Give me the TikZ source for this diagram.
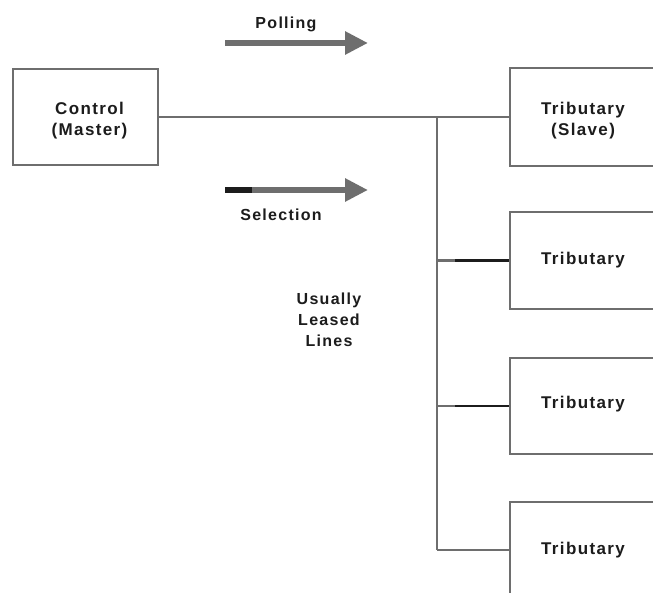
\documentclass[tikz,border=0pt]{standalone}
\usepackage{fontspec}
\setmainfont{Liberation Sans}[LetterSpace=8]
\usetikzlibrary{arrows.meta,calc}
\definecolor{linegray}{HTML}{6E6E6E}
\definecolor{ink}{HTML}{1C1C1C}
\begin{document}
\begin{tikzpicture}[x=1pt,y=-1pt,
  box/.style={draw=linegray, line width=2.6pt, minimum width=146pt, inner sep=0pt},
  lbl/.style={text=ink, align=center, font=\fontsize{17}{21}\selectfont\bfseries, inner sep=0pt},
  note/.style={text=ink, align=center, font=\fontsize{16}{21}\selectfont\bfseries, inner sep=0pt},
  wire/.style={draw=linegray, line width=2.6pt},
  hot/.style={draw=ink, line width=2.6pt},
  bigarrow/.style={draw=linegray, line width=6pt, -{Triangle[length=23pt,width=22pt]}}
]
\useasboundingbox (0,0) rectangle (653,593);
\fill[white] (0,0) rectangle (653,593);
\clip (0,0) rectangle (653,593);

% boxes
\node[box, minimum width=145pt, minimum height=96pt] (ctrl) at (85.5,117) {};
\node[box, minimum height=98pt] (t1) at (583,117) {};
\node[box, minimum height=97pt] (t2) at (583,260.5) {};
\node[box, minimum height=96pt] (t3) at (583,406) {};
\node[box, minimum height=96pt] (t4) at (583,550) {};

% labels
\node[lbl] (ctrltext) at ($(ctrl.center)+(4,4)$) {Control\\(Master)};
\node[lbl] (t1text) at ($(t1.center)+(0,4)$) {Tributary\\(Slave)};
\node[lbl] (t2text) at (t2.center) {Tributary};
\node[lbl] (t3text) at ($(t3.center)+(0,-2)$) {Tributary};
\node[lbl] (t4text) at (t4.center) {Tributary};
\node[note, anchor=base] (polltext) at (286,29) {Polling};
\node[note, anchor=base] (seltext) at (281,221) {Selection};
\node[note] (leased) at (329,320) {Usually\\Leased\\Lines};

% bus lines
\coordinate (bus) at (437,0);
\coordinate (hotx) at (455,0);
\draw[wire] (ctrl.east) -- (t1.west);
\draw[wire] (bus |- t1.west) -- (bus |- t4.west);
\draw[wire] (bus |- t2.west) -- (t2.west);
\draw[wire] (bus |- t3.west) -- (t3.west);
\draw[wire] (bus |- t4.west) -- (t4.west);
\draw[hot] (hotx |- t2.west) -- (t2.west);
\draw[hot] (hotx |- t3.west) -- (t3.west);

% big arrows
\coordinate (pollstart) at (225,43);
\coordinate (pollend) at (368,43);
\coordinate (selstart) at (225,190);
\coordinate (selmid) at (252,190);
\coordinate (selend) at (368,190);
\draw[bigarrow] (pollstart) -- (pollend);
\draw[bigarrow] (selstart) -- (selend);
\draw[draw=ink, line width=6pt] (selstart) -- (selmid);
\end{tikzpicture}
\end{document}
